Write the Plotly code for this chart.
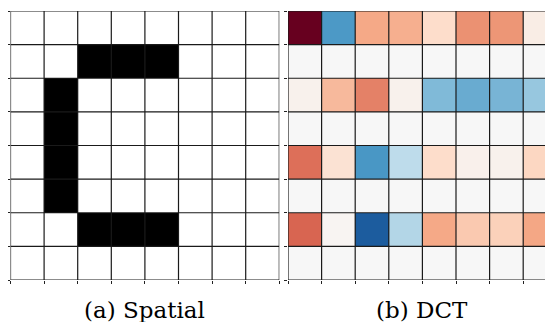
import plotly.graph_objects as go

# ---- data ----
# spatial 8x8 image: 1 = white pixel, 0 = black pixel (row 0 at top)
spatial = [
    [1, 1, 1, 1, 1, 1, 1, 1],
    [1, 1, 0, 0, 0, 1, 1, 1],
    [1, 0, 1, 1, 1, 1, 1, 1],
    [1, 0, 1, 1, 1, 1, 1, 1],
    [1, 0, 1, 1, 1, 1, 1, 1],
    [1, 0, 1, 1, 1, 1, 1, 1],
    [1, 1, 0, 0, 0, 1, 1, 1],
    [1, 1, 1, 1, 1, 1, 1, 1],
]

# DCT coefficients (DC term saturates the scale)
dct_row0 = [6.75, -0.78, 0.52, 0.49, 0.25, 0.62, 0.60, 0.10]
dct_row1 = [0.00, 0.00, 0.00, 0.00, 0.00, 0.00, 0.00, 0.00]
dct_row2 = [0.06, 0.44, 0.68, 0.06, -0.60, -0.68, -0.63, -0.52]
dct_row3 = [0.00, 0.00, 0.00, 0.00, 0.00, 0.00, 0.00, 0.00]
dct_row4 = [0.75, 0.20, -0.79, -0.35, 0.25, 0.07, 0.06, 0.29]
dct_row5 = [0.00, 0.00, 0.00, 0.00, 0.00, 0.00, 0.00, 0.00]
dct_row6 = [0.79, 0.03, -1.13, -0.40, 0.52, 0.36, 0.32, 0.53]
dct_row7 = [0.00, 0.00, 0.00, 0.00, 0.00, 0.00, 0.00, 0.00]
dct = [dct_row0, dct_row1, dct_row2, dct_row3, dct_row4, dct_row5, dct_row6, dct_row7]
dct_limit = 1.35

captions = ["(a) Spatial", "(b) DCT"]

# ---- figure ----
# the page body has an 8px margin, so the figure starts at (8, 8) in the window
OFF = 8
W, H = 553 - OFF, 322 - OFF
n = 8
cell = 33.6

def px_x(p):
    return (p - OFF) / W

def px_y(p):
    return 1 - (p - OFF) / H

left_x0, right_x0 = 10.5, 288.0
top_y, bot_y = 11.0, 280.0

rdbu_r = [
    [0.0, "rgb(5,48,97)"], [0.1, "rgb(33,102,172)"], [0.2, "rgb(67,147,195)"],
    [0.3, "rgb(146,197,222)"], [0.4, "rgb(209,229,240)"], [0.5, "rgb(247,247,247)"],
    [0.6, "rgb(253,219,199)"], [0.7, "rgb(244,165,130)"], [0.8, "rgb(214,96,77)"],
    [0.9, "rgb(178,24,43)"], [1.0, "rgb(103,0,31)"],
]

fig = go.Figure()
fig.add_trace(go.Heatmap(
    z=spatial, x=list(range(n)), y=list(range(n)),
    colorscale=[[0, "black"], [1, "white"]], zmin=0, zmax=1,
    showscale=False, xaxis="x", yaxis="y", hoverinfo="skip",
))
fig.add_trace(go.Heatmap(
    z=dct, x=list(range(n)), y=list(range(n)),
    colorscale=rdbu_r, zmin=-dct_limit, zmax=dct_limit,
    showscale=False, xaxis="x2", yaxis="y2", hoverinfo="skip",
))

bounds = [i - 0.5 for i in range(n + 1)]
axis_common = dict(
    tickvals=bounds, ticks="outside", ticklen=3, tickwidth=1, tickcolor="#222",
    showticklabels=False, showgrid=False, zeroline=False, showline=False,
    fixedrange=True, automargin=False,
)
right_vis = (553 - right_x0) / cell

fig.update_layout(
    template="none",
    width=W, height=H,
    margin=dict(l=0, r=0, t=0, b=0, pad=0),
    paper_bgcolor="white", plot_bgcolor="white",
    xaxis=dict(domain=[px_x(left_x0), px_x(left_x0 + n * cell)], range=[-0.5, n - 0.5],
               anchor="y", **axis_common),
    yaxis=dict(domain=[px_y(bot_y), px_y(top_y)], range=[n - 0.5, -0.5],
               anchor="x", **axis_common),
    xaxis2=dict(domain=[px_x(right_x0), 1.0], range=[-0.5, -0.5 + right_vis],
                anchor="y2", **axis_common),
    yaxis2=dict(domain=[px_y(bot_y), px_y(top_y)], range=[n - 0.5, -0.5],
                anchor="x2", **axis_common),
    showlegend=False,
)

shapes = []
for xr, yr in (("x", "y"), ("x2", "y2")):
    for b in bounds:
        shapes.append(dict(type="line", xref=xr, yref=yr, x0=b, x1=b, y0=-0.5, y1=n - 0.5,
                           line=dict(color="#1a1a1a", width=1.2), layer="above"))
        shapes.append(dict(type="line", xref=xr, yref=yr, x0=-0.5, x1=n - 0.5, y0=b, y1=b,
                           line=dict(color="#1a1a1a", width=1.2), layer="above"))
fig.update_layout(shapes=shapes)

cap_y = px_y(310)
for i, x0 in enumerate((left_x0, right_x0)):
    fig.add_annotation(text=captions[i], x=px_x(x0 + n * cell / 2), y=cap_y,
                       xref="paper", yref="paper", showarrow=False,
                       xanchor="center", yanchor="middle",
                       font=dict(family="DejaVu Serif", size=23, color="black"))

fig.write_html("out.html")
